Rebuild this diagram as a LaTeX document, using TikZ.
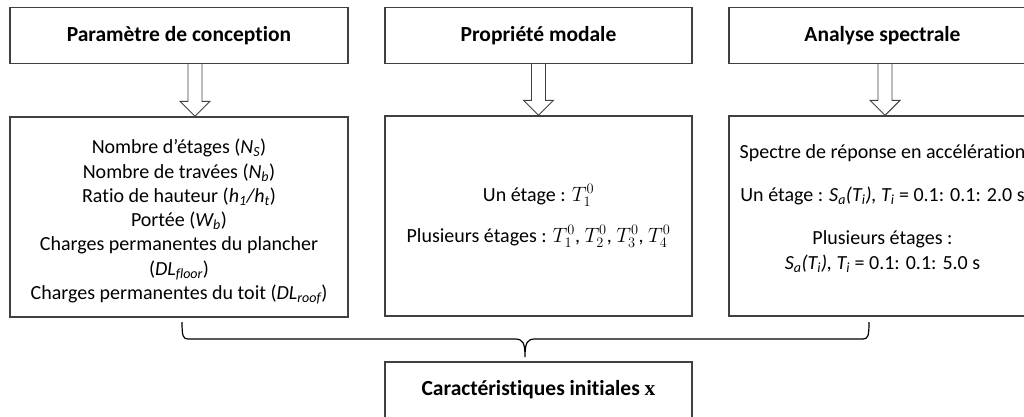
\documentclass[tikz,border=0pt]{standalone}
\usepackage{fontspec}
\setmainfont{Carlito}[Ligatures=NoCommon]
\newfontfamily\serifx{Liberation Serif}
\usepackage{amsmath}
\usetikzlibrary{calc, positioning}

\tikzset{
    headbox/.style={draw=black!75, line width=1.3pt, minimum width=#1, minimum height=56pt,
        inner sep=0pt, font=\fontsize{21.5}{26}\selectfont\bfseries},
    varbox/.style={draw=black!75, line width=1.3pt, minimum width=#1, minimum height=200pt,
        inner sep=0pt, align=center, font=\fontsize{20}{24.3}\selectfont},
    hollow/.style={draw=black!75, line width=0.9pt, line join=miter},
    bracket/.style={draw=black, line width=1.2pt}
}

% block arrow going down from one box into the next one
\newcommand{\blockarrow}[3]{%
    \coordinate (ax) at (#1,0);
    \draw[hollow] ($(ax |- #2.south)+(-7,0)$) -- ($(ax |- #3.north)+(-7,-15)$)
        -- ($(ax |- #3.north)+(-15,-15)$) -- (ax |- #3.north)
        -- ($(ax |- #3.north)+(15,-15)$) -- ($(ax |- #3.north)+(7,-15)$)
        -- ($(ax |- #2.south)+(7,0)$);
}

\begin{document}
\begin{tikzpicture}[x=1pt, y=-1pt]
    \path[use as bounding box, clip] (0,0) rectangle (1024,417);

    % Column headers
    \node[headbox=338pt] (conc) at (179,35.5) {Paramètre de conception};
    \node[headbox=307pt] (modal) at (538.5,35.5) {Propriété modale};
    \node[headbox=307pt] (spec) at (882.5,35.5) {Analyse spectrale};

    % Design parameters
    \node[varbox=338pt] (concvar) at (179,217) {%
        \rule{0pt}{24pt}Nombre d’étages (\textit{N\textsubscript{S}})\\
        Nombre de travées (\textit{N\textsubscript{b}})\\
        Ratio de hauteur (\textit{h\textsubscript{1}/h\textsubscript{t}})\\
        Portée (\textit{W\textsubscript{b}})\\
        Charges permanentes du plancher\\
        (\textit{DL\textsubscript{floor}})\\
        Charges permanentes du toit (\textit{DL\textsubscript{roof}})};

    % Modal properties
    \node[varbox=307pt] (modalvar) at (538.5,216) {%
        Un étage : $T_1^0$\\[17pt]
        Plusieurs étages : $T_1^0$, $T_2^0$, $T_3^0$, $T_4^0$};

    % Spectral analysis
    \node[varbox=307pt] (specvar) at (882.5,216) {%
        Spectre de réponse en accélération\\[19pt]
        Un étage : \textit{S\textsubscript{a}(T\textsubscript{i}), T\textsubscript{i}} = 0.1: 0.1: 2.0 s\\[19pt]
        Plusieurs étages :\\
        \textit{S\textsubscript{a}(T\textsubscript{i}), T\textsubscript{i}} = 0.1: 0.1: 5.0 s\\[-6pt]
        \mbox{}};

    % Output
    \node[headbox=307pt] (init) at (538.5,390) {Caractéristiques initiales {\serifx x}};

    % Arrows
    \blockarrow{195}{conc}{concvar}
    \blockarrow{538.5}{modal}{modalvar}
    \blockarrow{885}{spec}{specvar}

    % Brace
    \coordinate (bl) at (182,322);
    \coordinate (br) at (869,322);
    \coordinate (bm) at (525,357);
    \draw[bracket] (bl) .. controls (182,336) and (183,339) .. (188,339)
        -- (515,339) .. controls (523,339) and (525,343) .. (bm)
        .. controls (525,343) and (527,339) .. (535,339)
        -- (863,339) .. controls (868,339) and (869,336) .. (br);
\end{tikzpicture}
\end{document}
